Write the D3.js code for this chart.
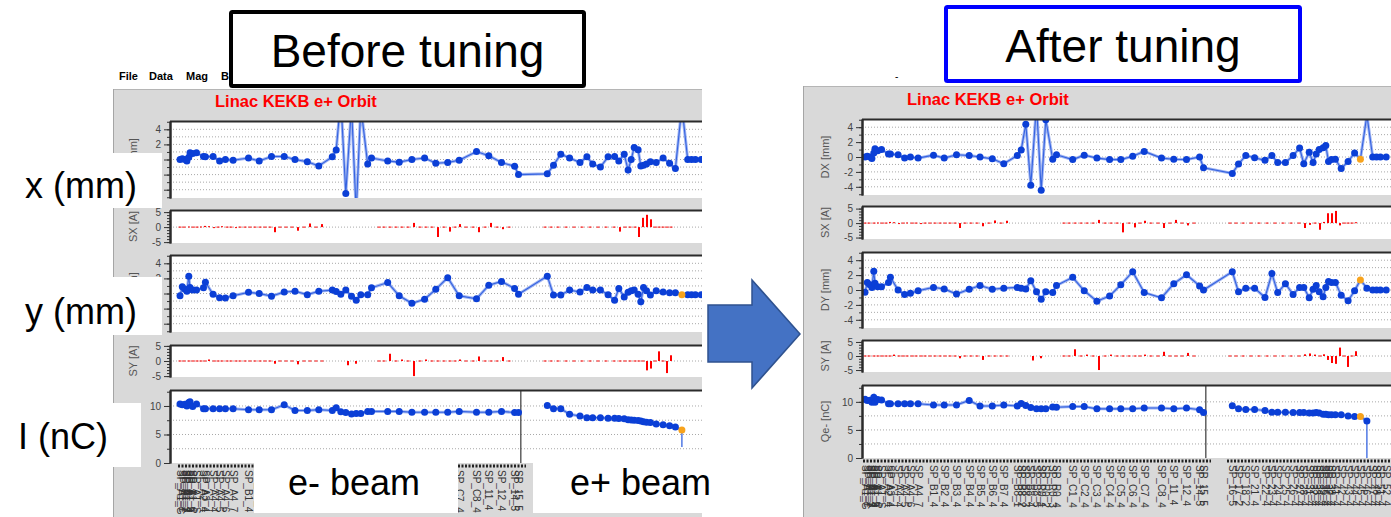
<!DOCTYPE html>
<html>
<head>
<meta charset="utf-8">
<script src="https://cdn.jsdelivr.net/npm/d3@7"></script>
<style>
  body { margin: 0; background: #fff; }
  svg { display: block; font-family: Arial, "Liberation Sans", sans-serif; }
</style>
</head>
<body>
<svg width="1391" height="517"></svg>
<script>
// BPM positions along the linac (plot units) and names
const bpmS = [10.0, 12.3, 15.0, 16.9, 18.8, 20.0, 22.7, 26.5, 33.5, 35.4,
  43.1, 49.6, 55.4, 63.1, 78.5, 89.2, 101.5, 114.2, 125.0, 137.3,
  148.8, 162.3, 166.2, 170.8, 175.8, 181.5, 186.2, 190.8, 197.7, 201.5,
  217.7, 229.2, 241.9, 254.6, 265.8, 277.7, 289.2, 306.5, 318.8, 331.5,
  344.6, 348.5, 377.3, 383.5, 390.8, 399.6, 410.0, 416.9, 422.7, 430.4,
  438.1, 444.6, 448.8, 454.2, 458.1, 461.2, 464.2, 468.1, 470.8, 473.5,
  476.5, 480.4, 486.2, 493.1, 499.6, 505.4, 511.9, 517.7, 521.5, 525.4, 531.2];

const bpmNames = ["SP_A1_G", "SP_A1_1", "SP_A1_2", "SP_A1_3", "SP_A1_4", "SP_A1_5", "SP_A1_6", "SP_A1_S", "SP_A2_4", "SP_A3_4",
  "SP_A4_4", "SP_A4_5", "SP_A4_6", "SP_A4_7", "SP_B1_4", "SP_B2_4", "SP_B3_4", "SP_B4_4", "SP_B5_4", "SP_B6_4",
  "SP_B7_4", "SP_B8_1", "SP_B8_2", "SP_B8_3", "SP_B8_4", "SP_B8_5", "SP_R0_1", "SP_R0_2", "SP_R0_3", "SP_R0_4",
  "SP_C1_4", "SP_C2_4", "SP_C3_4", "SP_C4_4", "SP_C5_4", "SP_C6_4", "SP_C7_4", "SP_C8_4", "SP_11_4", "SP_12_4",
  "SP_14_5", "SP_15_5", "SP_16_5", "SP_17_2", "SP_18_2", "SP_21_4", "SP_22_4", "SP_23_4", "SP_24_4", "SP_25_4",
  "SP_26_4", "SP_27_4", "SP_28_4", "SP_31_4", "SP_32_4", "SP_33_4", "SP_34_4", "SP_35_4", "SP_36_4", "SP_37_4",
  "SP_38_4", "SP_41_4", "SP_42_4", "SP_43_4", "SP_44_4", "SP_45_4", "SP_46_4", "SP_47_4", "SP_48_4", "SP_51_4", "SP_52_4"];

// orbit DX [mm]
const dxBefore = [0.0, 0.1, 0.0, -0.2, 0.3, 0.9, 0.8, 0.9, 0.4, 0.35,
  0.4, -0.2, 0.0, -0.1, 0.2, -0.2, 0.4, 0.4, 0.0, -0.3,
  -0.85, 0.35, 1.25, 8, -4.5, 7, -7, 7, -0.6, 0.2,
  -0.2, -0.35, 0.0, 0.2, -0.5, -0.4, -0.1, 1.05, 0.5, -0.4,
  -0.9, -2.0, -1.9, -0.75, 0.7, 0.2, -0.4, 0.35, -0.6, -1.0,
  0.35, 0.4, -0.2, 0.7, -1.4, 0.0, 1.6, 1.3, -0.85, -0.75,
  -0.6, -0.3, -0.4, 0.2, -0.5, -1.2, 7, 0, 0, 0, 0];
const dxAfter = [0.0, 0.1, 0.0, -0.2, 0.55, 1.1, 0.85, 1.0, 0.4, 0.4,
  0.3, -0.15, 0.0, -0.15, 0.25, -0.15, 0.3, 0.2, 0.0, -0.25,
  -0.9, 0.2, 0.95, 4.4, -3.8, 7, -4.45, 5.0, -0.3, 0.3,
  -0.35, 0.25, -0.15, -0.35, -0.35, 0.1, 0.75, -0.15, -0.3, -0.35,
  0.0, -1.45, -2.2, -0.95, 0.2, -0.1, -0.45, 0.2, -0.75, -0.75,
  0.2, 1.2, -0.9, 0.65, -0.75, 0.4, 1.0, 1.25, 1.55, -0.6,
  -0.35, -0.3, -1.55, -0.6, 0.55, -0.3, 5.6, 0, 0, 0, 0];

// orbit DY [mm]
const dyBefore = [-0.3, 0.9, 0.55, 0.3, 2.3, 0.8, 0.45, 0.45, 0.75, 1.5,
  -0.1, -0.55, -0.6, -0.3, 0.15, 0.0, -0.35, 0.2, 0.3, -0.15,
  0.3, 0.45, 0.25, -0.1, 0.45, -0.35, -0.9, -0.15, -0.15, 0.75,
  1.45, -0.3, -1.3, -0.75, 0.55, 2.1, -0.3, -0.7, 1.1, 1.6,
  0.65, -0.1, 2.3, -0.2, -0.2, 0.45, 0.2, 0.8, 0.45, 0.45,
  -0.15, -0.9, 0.65, -0.45, 0.15, 0.35, 0.45, -0.1, -1.1, 0.8,
  0.35, -0.2, 0.35, 0.2, 0.1, 0.1, -0.15, -0.15, -0.15, -0.15, -0.15];
const dyAfter = [-0.3, 1.0, 0.7, 0.35, 2.5, 0.9, 0.45, 0.45, 1.0, 1.7,
  0.0, -0.6, -0.45, -0.1, 0.35, 0.15, -0.55, 0.1, 0.6, 0.1,
  0.25, 0.35, 0.25, 0.15, 1.25, -0.25, -1.25, -0.25, -0.35, 0.6,
  1.7, -0.1, -1.5, -0.8, 0.7, 2.45, -0.35, -1.05, 0.85, 2.05,
  0.55, 0.0, 2.45, -0.25, 0.25, 0.25, -1.0, 2.2, -0.35, 0.85,
  -0.6, 0.35, 0.35, -1.05, 0.1, 0.6, -0.25, -0.9, 0.35, 1.15,
  1.0, 1.0, -0.7, -1.45, -0.1, 1.35, 0.25, 0, 0, 0, 0];

// charge Qe- [nC]
const qBefore = [10.35, 10.2, 10.3, 10.0, 10.6, 10.75, 9.9, 10.35, 9.5, 9.5,
  9.5, 9.5, 9.5, 9.5, 9.35, 9.35, 9.35, 10.2, 9.2, 9.2,
  9.35, 9.2, 9.7, 9.0, 8.85, 8.6, 8.7, 8.7, 9.05, 9.05,
  9.05, 9.05, 8.9, 8.9, 8.9, 8.9, 9.05, 8.9, 8.9, 9.05,
  8.85, 8.85, 10.1, 9.5, 9.5, 8.55, 8.25, 7.95, 7.95, 7.95,
  7.85, 7.85, 7.8, 7.75, 7.6, 7.55, 7.5, 7.45, 7.35, 7.25,
  7.15, 7.1, 6.85, 6.7, 6.55, 6.3, 5.8, null, null, null, null];
const qAfter = [10.45, 10.25, 10.3, 9.95, 10.8, 9.95, 10.4, 10.35, 9.65, 9.65,
  9.65, 9.65, 9.65, 9.65, 9.45, 9.45, 9.45, 10.25, 9.25, 9.25,
  9.45, 9.25, 9.7, 9.35, 9.0, 8.75, 8.75, 8.75, 9.1, 9.05,
  9.15, 9.15, 8.75, 8.75, 8.75, 8.75, 8.9, 8.9, 8.75, 8.9,
  8.6, 8.1, 9.3, 8.75, 8.65, 8.65, 8.45, 8.15, 8.15, 8.15,
  8.1, 8.1, 8.1, 8.0, 8.0, 8.1, 8.0, 7.8, 7.8, 7.7,
  7.7, 7.7, 7.7, 7.5, 7.4, 7.4, 6.6, null, null, null, null];
const qDropBefore = 2.8, qDropAfter = 0;   // charge read at the stem under BPM 66
const orangeBefore = 66, orangeAfter = 65;
const beamSplit = 350.8;   // e- / e+ boundary

// steering magnets and their kicks [A]
const steerS = [10, 14, 19, 23, 27, 31, 35, 39, 44, 48, 52, 57, 61, 66, 70, 75, 80, 85, 90, 95,
  100, 105, 110, 116, 122, 128, 134, 140, 146, 152, 178, 186,
  209, 214, 220, 226, 232, 238, 244, 250, 256, 262, 268, 274, 280, 285, 290, 296, 303, 309, 315, 321, 327, 333, 339,
  375, 381, 388, 396, 404, 412, 420, 428, 436, 444, 450, 455, 460, 465, 469, 473, 477, 481, 485, 489, 493, 497, 501];
const sxBefore = [0, 0, 0.2, 0, 0, 0.2, 0.4, 0.3, -0.3, 0, 0.3, 0, 0, -0.2, 0, 0, 0, 0, 0, 0,
  0, -1.7, 0, 0, 0, -1.2, 0, 1.2, 0, 1.0, null, null,
  0, 0, 0, 0, 0, 0, 1.4, 0, 0, 0, -3.3, 0, -1.5, 0, 1.0, 0, 0, -1.7, 0, 1.4, 0, -0.7, 0,
  0, 0, 0, 0, 0, 0, 0, 0, 0, 0, -1.5, 0, 0, 0, -3.3, 3.1, 4.1, 2.6, 0, 0, 0, 0, 0];
const sxAfter = [0, 0, 0, 0.2, 0, 0, 0.4, 0.3, -0.3, 0, 0.2, 0, 0, -0.2, 0, 0, 0, 0, 0, 0,
  0, -1.7, 0, 0, 0, -1.1, 0, 0.9, 0, 0.8, null, null,
  0, 0, 0, 0, 0, 0, 1.1, 0, 0, 0, -3.2, 0, -1.5, 0, 0.8, 0, 0, -1.7, 0, 1.1, 0, -0.8, 0,
  0, 0, 0, 0, 0, 0, 0, 0, 0, 0, -1.7, -0.6, 0, -2.3, 0.4, 3.4, 3.4, 4.2, -0.8, 0, 0, 0, 0.3];
const syBefore = [0, 0, 0, 0, 0, 0, 0, 0.5, 0, 0, 0, 0, 0, 0, 0, 0, 0, 0, 0, 0,
  0, -0.9, 0, 0, 0, -1.1, 0, 0, 0, 0, -1.4, -0.9,
  0, 0, 2.4, 0, 0.5, 0, -5, 0, 0.5, 0, 0, 0, 0, 0, 0.5, 0, 0, 1.5, 0, 0, 0, 1.3, 0,
  0, 0, 0, 0, 0, 0, 0, 0, 0, 0, 0, 0, 0, 0, 0, 0, -3.1, -2.5, 0, 3.2, 0, -4.0, 1.9];
const syAfter = [0, 0, 0, 0, 0, 0, 0, 0.5, 0, 0, 0, 0, 0, 0, 0, 0, 0, 0, 0, 0,
  0, -0.8, 0, 0, 0, -1.4, 0, 0, 0, 0, -1.6, -0.8,
  0, 0, 2.4, 0, 0.5, 0, -5, 0, 0.5, 0, 0, 0, 0, 0, 0.5, 0, 0, 1.5, 0, 0, 0, 1.1, 0,
  0, 0, 0, 0, 0, 0, 0, 0, 0, 0, 0.6, 0.9, 0.5, 0, 0.6, -1.4, -2.5, -2.8, 3.0, 0, -3.9, 0, 1.7];

const rowTitles = { dx: "DX [mm]", sx: "SX [A]", dy: "DY [mm]", sy: "SY [A]", q: "Qe- [nC]" };

const svg = d3.select("svg");
const H = 517;
const blue = "#0b3fd6", lineBlue = "#3563e0", orange = "#f8a31c";

const panels = [
  { id: "before", frame: [113, 89, 702], origin: 170, plotLeft: 170, title: [215, 107],
    rows: { dx: [121, 198, [-5.1, 5.1]], sx: [210, 243, [-5.3, 5.7]], dy: [255, 332, [-5.1, 5.1]],
            sy: [345, 377, [-5.3, 5.3]], q: [390, 463, [0, 12.8]] },
    dx: dxBefore, dy: dyBefore, q: qBefore, sx: sxBefore, sy: syBefore, orange: orangeBefore, qDrop: qDropBefore },
  { id: "after", frame: [803, 86, 1391], origin: 855, plotLeft: 862, title: [907, 105],
    rows: { dx: [119, 195, [-5.1, 5.1]], sx: [206, 239, [-5.5, 5.9]], dy: [252, 328, [-5.1, 5.1]],
            sy: [340, 372, [-5.7, 5.7]], q: [385, 458, [0, 13.0]] },
    dx: dxAfter, dy: dyAfter, q: qAfter, sx: sxAfter, sy: syAfter, orange: orangeAfter, qDrop: qDropAfter }
];

const ticks = {
  dx: { major: [-4, -2, 0, 2, 4], minor: d3.range(-5, 6), grid: d3.range(-4, 5) },
  dy: { major: [-4, -2, 0, 2, 4], minor: d3.range(-5, 6), grid: d3.range(-4, 5) },
  sx: { major: [-5, 0, 5], minor: d3.range(-5, 6), grid: [0] },
  sy: { major: [-5, 0, 5], minor: d3.range(-5, 6), grid: [0] },
  q: { major: [0, 5, 10], minor: [0, 2.5, 5, 7.5, 10, 12.5], grid: [2.5, 5, 7.5, 10] }
};

function drawOrbit(body, p, x, y, vals) {
  const idx = d3.range(bpmS.length).filter(i => vals[i] != null);
  const line = d3.line().x(i => x(bpmS[i])).y(i => y(vals[i]));
  body.append("path").attr("d", line(idx)).attr("fill", "none")
    .attr("stroke", "#9fb4f2").attr("stroke-width", 3);
  body.append("path").attr("d", line(idx)).attr("fill", "none")
    .attr("stroke", lineBlue).attr("stroke-width", 1.1);
}

function drawDots(body, p, x, y, vals) {
  const idx = d3.range(bpmS.length).filter(i => vals[i] != null);
  body.selectAll("circle.bpm").data(idx).join("circle")
    .attr("class", "bpm")
    .attr("cx", i => x(bpmS[i])).attr("cy", i => y(vals[i])).attr("r", 3.5)
    .attr("fill", i => i === p.orange ? orange : blue);
  body.selectAll("circle.bpm").filter(i => i === p.orange).raise();
}

function drawRow(g, p, key, x) {
  const [y0, y1, dom] = p.rows[key];
  const y = d3.scaleLinear().domain(dom).range([y1, y0]);
  const w = p.frame[2] - p.plotLeft;
  g.append("rect").attr("x", p.plotLeft).attr("y", y0).attr("width", w).attr("height", y1 - y0).attr("fill", "#fff");
  const cid = "clip-" + p.id + "-" + key;
  g.append("clipPath").attr("id", cid).append("rect")
    .attr("x", p.plotLeft + 1).attr("y", y0).attr("width", w).attr("height", y1 - y0);
  const body = g.append("g").attr("clip-path", "url(#" + cid + ")");

  body.selectAll("line.grid").data(ticks[key].grid).join("line")
    .attr("x1", p.plotLeft).attr("x2", p.frame[2])
    .attr("y1", d => y(d)).attr("y2", d => y(d))
    .attr("stroke", "#a8a8a8").attr("stroke-dasharray", "1,2");

  if (key === "dx" || key === "dy") {
    drawOrbit(body, p, x, y, p[key]);
    drawDots(body, p, x, y, p[key]);
  } else if (key === "sx" || key === "sy") {
    const vals = p[key];
    const idx = d3.range(steerS.length).filter(i => vals[i] != null);
    body.selectAll("rect.kick").data(idx).join("rect")
      .attr("x", i => x(steerS[i]) - (vals[i] === 0 ? 1.5 : 1))
      .attr("width", i => vals[i] === 0 ? 3 : 2)
      .attr("y", i => Math.min(y(0), y(vals[i])) - (vals[i] === 0 ? 0.5 : 0))
      .attr("height", i => Math.max(1, Math.abs(y(vals[i]) - y(0))))
      .attr("fill", "#ff0000");
  } else {
    const vals = p.q;
    const eMinus = d3.range(bpmS.length).filter(i => bpmS[i] < beamSplit && vals[i] != null);
    const ePlus = d3.range(bpmS.length).filter(i => bpmS[i] > beamSplit && vals[i] != null);
    const line = d3.line().x(i => x(bpmS[i])).y(i => y(vals[i]));
    [eMinus, ePlus].forEach(seg => {
      body.append("path").attr("d", line(seg)).attr("fill", "none").attr("stroke", "#9fb4f2").attr("stroke-width", 3);
      body.append("path").attr("d", line(seg)).attr("fill", "none").attr("stroke", lineBlue).attr("stroke-width", 1.1);
    });
    body.append("line")
      .attr("x1", x(beamSplit)).attr("x2", x(beamSplit)).attr("y1", y0).attr("y2", y1)
      .attr("stroke", "#555").attr("stroke-width", 1.4);
    const last = ePlus[ePlus.length - 1];
    body.append("line")
      .attr("x1", x(bpmS[last])).attr("x2", x(bpmS[last]))
      .attr("y1", y(vals[last])).attr("y2", y(p.qDrop))
      .attr("stroke", lineBlue).attr("stroke-width", 1.3);
    drawDots(body, p, x, y, vals);
  }

  // frame
  g.append("line").attr("x1", p.plotLeft).attr("x2", p.frame[2]).attr("y1", y0 + 0.5).attr("y2", y0 + 0.5)
    .attr("stroke", "#2b2b2b").attr("stroke-width", 2);
  const minor = g.append("g").attr("transform", "translate(" + p.plotLeft + ",0)")
    .call(d3.axisLeft(y).tickValues(ticks[key].minor).tickSize(3).tickSizeOuter(0).tickFormat(""));
  const major = g.append("g").attr("transform", "translate(" + p.plotLeft + ",0)")
    .call(d3.axisLeft(y).tickValues(ticks[key].major).tickSize(6).tickSizeOuter(0).tickPadding(3).tickFormat(d => String(d)));
  [minor, major].forEach(a => {
    a.select(".domain").attr("stroke", "#2b2b2b").attr("stroke-width", 2);
    a.selectAll(".tick line").attr("stroke", "#333");
    a.selectAll("text").attr("fill", "#444").attr("font-size", 10).attr("font-family", "Arial, sans-serif");
  });
  g.append("text")
    .attr("transform", "translate(" + (p.plotLeft - 33) + "," + ((y0 + y1) / 2) + ") rotate(-90)")
    .attr("text-anchor", "middle").attr("font-size", 11).attr("fill", "#555")
    .text(rowTitles[key]);
  return y;
}

panels.forEach(p => {
  const [fx, fy, fr] = p.frame;
  const pclip = "pclip-" + p.id;
  svg.append("clipPath").attr("id", pclip).append("rect")
    .attr("x", fx).attr("y", fy).attr("width", fr - fx).attr("height", H - fy);
  const g = svg.append("g").attr("clip-path", "url(#" + pclip + ")");
  g.append("rect").attr("x", fx).attr("y", fy).attr("width", fr - fx).attr("height", H - fy).attr("fill", "#d9d9d9");
  g.append("line").attr("x1", fx).attr("x2", fr).attr("y1", fy + 0.5).attr("y2", fy + 0.5).attr("stroke", "#b5b5b5");
  g.append("line").attr("x1", fx + 0.5).attr("x2", fx + 0.5).attr("y1", fy).attr("y2", H).attr("stroke", "#a5a5a5");

  g.append("text").attr("x", p.title[0]).attr("y", p.title[1])
    .attr("fill", "#ff0000").attr("font-weight", "bold").attr("font-size", 16.5)
    .text("Linac KEKB e+ Orbit");

  const x = d3.scaleLinear().domain([0, 540]).range([p.origin, p.origin + 540]);
  ["dx", "sx", "dy", "sy", "q"].forEach(k => drawRow(g, p, k, x));

  // BPM axis below the charge plot
  const yb = p.rows.q[1];
  [[8, 356], [372, 540]].forEach(([a, b]) => {
    g.append("line").attr("x1", x(a)).attr("x2", x(b)).attr("y1", yb + 3).attr("y2", yb + 3)
      .attr("stroke", "#222").attr("stroke-width", 3).attr("stroke-dasharray", "2,1.5");
  });
  g.selectAll("text.bpmname").data(bpmNames).join("text")
    .attr("class", "bpmname")
    .attr("transform", (d, i) => "translate(" + x(bpmS[i]) + "," + (yb + 7) + ") rotate(90)")
    .attr("dy", "0.35em").attr("font-size", 10).attr("fill", "#333")
    .text(d => d);
});

// menu of the left window
[["File", 119], ["Data", 149], ["Mag", 186], ["B", 221]].forEach(([t, mx]) => {
  svg.append("text").attr("x", mx).attr("y", 80).attr("font-size", 11).attr("font-weight", "bold").text(t);
});
svg.append("text").attr("x", 895).attr("y", 80).attr("font-size", 10).text("-");

// annotation boxes
const notes = [
  { box: [0, 153, 162, 55], text: "x (mm)", tx: 25, ty: 198 },
  { box: [0, 277, 162, 58], text: "y (mm)", tx: 25, ty: 324 },
  { box: [0, 403, 141, 64], text: "I (nC)", tx: 18, ty: 449 },
  { box: [254, 463, 204, 50], text: "e- beam", tx: 288, ty: 495 },
  { box: [533, 463, 187, 50], text: "e+ beam", tx: 570, ty: 495 }
];
notes.forEach(n => {
  svg.append("rect").attr("x", n.box[0]).attr("y", n.box[1]).attr("width", n.box[2]).attr("height", n.box[3]).attr("fill", "#fff");
  svg.append("text").attr("x", n.tx).attr("y", n.ty).attr("font-size", 36).attr("fill", "#000").text(n.text);
});

// headline boxes
[{ x: 229, y: 10, w: 357, h: 78, c: "#000", t: "Before tuning", ty: 67 },
 { x: 944, y: 5, w: 358, h: 78, c: "#0000ff", t: "After tuning", ty: 62 }].forEach(b => {
  svg.append("rect").attr("x", b.x + 2).attr("y", b.y + 2).attr("width", b.w - 4).attr("height", b.h - 4)
    .attr("fill", "#fff").attr("stroke", b.c).attr("stroke-width", 4).attr("rx", 1.5);
  svg.append("text").attr("x", b.x + b.w / 2).attr("y", b.ty).attr("text-anchor", "middle")
    .attr("font-size", 46).attr("fill", "#000").text(b.t);
});

// block arrow between the two windows
svg.append("path")
  .attr("d", d3.line()([[708, 305], [752, 305], [752, 280], [800, 334], [752, 388], [752, 362], [708, 362]]) + "Z")
  .attr("fill", "#4472c4").attr("stroke", "#2f528f").attr("stroke-width", 1.5);
</script>
</body>
</html>
